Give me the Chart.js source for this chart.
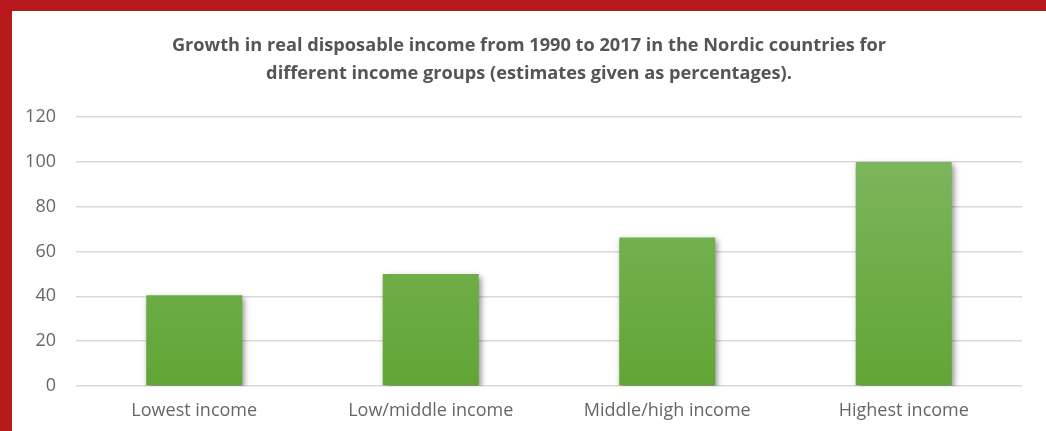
<!DOCTYPE html>
<html>
<head>
<meta charset="utf-8">
<script src="https://cdn.jsdelivr.net/npm/chart.js@4"></script>
<style>
  html,body{margin:0;padding:0;background:#fff;}
  body{width:1046px;height:431px;overflow:hidden;box-sizing:border-box;border-top:11px solid #b8191c;border-left:12px solid #b8191c;}
  #wrap{position:relative;width:1034px;height:420px;}
</style>
</head>
<body>
<div id="wrap"><canvas id="c"></canvas></div>
<script>
// data
const groups = ['Lowest income', 'Low/middle income', 'Middle/high income', 'Highest income'];
const growth = [40.5, 50, 66.3, 100];
const yTicks = [0, 20, 40, 60, 80, 100, 120];
const titleLines = ['Growth in real disposable income from 1990 to 2017 in the Nordic countries for',
                    'different income groups (estimates given as percentages).'];

const FONT = '"Open Sans", sans-serif';

// bar shadow, excel style
const shadow = {
  id: 'shadow',
  beforeDatasetDraw(chart){
    const ctx = chart.ctx; ctx.save();
    ctx.shadowColor = 'rgba(0,0,0,0.45)';
    ctx.shadowBlur = 6; ctx.shadowOffsetX = 2; ctx.shadowOffsetY = 3;
  },
  afterDatasetDraw(chart){ chart.ctx.restore(); }
};

function barFill(context){
  const { chart } = context;
  const a = chart.chartArea;
  if(!a) return '#70ad47';
  const g = chart.ctx.createLinearGradient(0, a.top, 0, a.bottom);
  g.addColorStop(0, '#82b863');
  g.addColorStop(1, '#61a536');
  return g;
}

new Chart(document.getElementById('c'), {
  type: 'bar',
  data: { labels: groups, datasets: [{ data: growth, backgroundColor: barFill, borderWidth: 0,
    categoryPercentage: 1, barPercentage: 0.406 }] },
  plugins: [shadow],
  options: {
    responsive: true, maintainAspectRatio: false, animation: false,
    layout: { padding: 0 },
    plugins: {
      legend: { display: false },
      tooltip: { enabled: false },
      title: { display: true, text: titleLines, color: '#555555',
        font: { family: FONT, size: 18.2, weight: 'bold', lineHeight: 1.54 }, padding: { top: 21, bottom: 29 } }
    },
    scales: {
      x: {
        afterFit: s => { s.height = 45; },
        grid: { display: false, drawTicks: false }, border: { display: false },
        ticks: { color: '#666666', font: { family: FONT, size: 18 }, padding: 14 }
      },
      y: {
        min: 0, max: 120,
        afterBuildTicks: s => { s.ticks = yTicks.map(v => ({ value: v })); },
        afterFit: s => { s.width = 64; },
        grid: { color: '#d9d9d9', lineWidth: 1.5, drawTicks: false }, border: { display: false },
        ticks: { color: '#666666', font: { family: FONT, size: 18 }, padding: 20 }
      },
      // empty right margin so the title stays centred on the whole panel
      yr: {
        position: 'right', min: 0, max: 120,
        afterFit: s => { s.width = 24; },
        grid: { display: false, drawOnChartArea: false }, border: { display: false },
        ticks: { display: false }
      }
    }
  }
});
</script>
</body>
</html>
